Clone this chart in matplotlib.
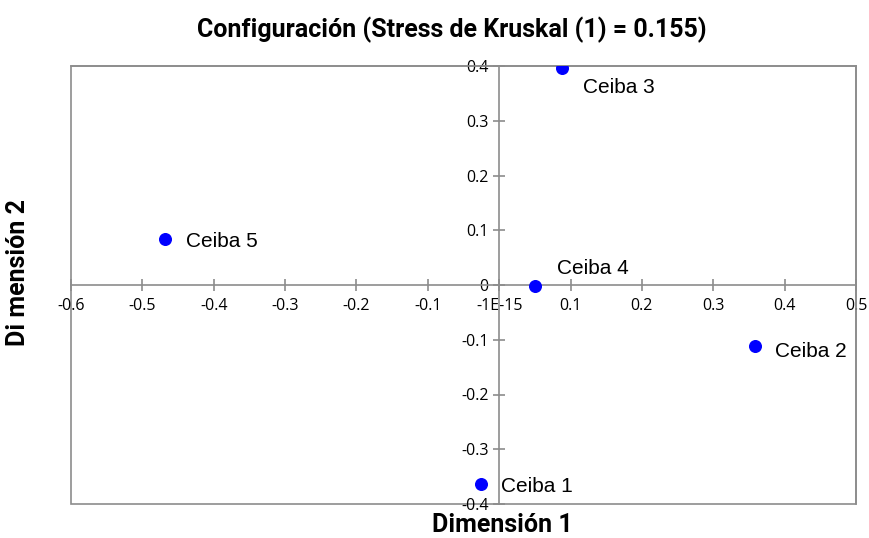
import matplotlib
matplotlib.use("Agg")
import matplotlib.pyplot as plt
from matplotlib.patches import Rectangle

names = ["Ceiba 1", "Ceiba 2", "Ceiba 3", "Ceiba 4", "Ceiba 5"]
dim1 = [-0.025, 0.359, 0.088, 0.050, -0.468]
dim2 = [-0.363, -0.111, 0.396, -0.002, 0.084]

x_ticks = [-0.6, -0.5, -0.4, -0.3, -0.2, -0.1, 0.0, 0.1, 0.2, 0.3, 0.4, 0.5]
x_labels = ["-0.6", "-0.5", "-0.4", "-0.3", "-0.2", "-0.1", "-1E-15",
            "0.1", "0.2", "0.3", "0.4", "0.5"]
y_ticks = [-0.4, -0.3, -0.2, -0.1, 0.0, 0.1, 0.2, 0.3, 0.4]
y_labels = ["-0.4", "-0.3", "-0.2", "-0.1", "0", "0.1", "0.2", "0.3", "0.4"]

# label offsets in points (dx, dy)
offsets = [(14, -2), (14, -4), (15, -14), (16, 13), (15, -2)]

gray = "#8c8c8c"
bold_font = ["Roboto", "Liberation Sans", "DejaVu Sans"]

fig = plt.figure(figsize=(8.7, 5.38), dpi=100)
ax = fig.add_axes([71 / 870, 1 - 504 / 538, 785 / 870, 438 / 538])

ax.scatter(dim1, dim2, s=70, color="#0000ff", zorder=3)
for n, x, y, off in zip(names, dim1, dim2, offsets):
    ax.annotate(n, (x, y), xytext=off, textcoords="offset points",
                fontsize=15, family="Liberation Sans", va="center", ha="left")

ax.set_xlim(-0.6, 0.5)
ax.set_ylim(-0.4, 0.4)

ax.spines["left"].set_position(("data", 0))
ax.spines["bottom"].set_position(("data", 0))
for s in ax.spines.values():
    s.set_color(gray)
    s.set_linewidth(1.2)
ax.add_patch(Rectangle((0, 0), 1, 1, transform=ax.transAxes, fill=False,
                       edgecolor=gray, linewidth=1.2, clip_on=False))

ax.set_xticks(x_ticks)
ax.set_xticklabels(x_labels)
ax.set_yticks(y_ticks)
ax.set_yticklabels(y_labels)
ax.tick_params(axis="both", direction="inout", length=9, width=1.2, color=gray,
               labelsize=11.5, pad=5)
ax.tick_params(axis="y", pad=3)
ax.tick_params(axis="both", which="both", top=False, right=False)
for lab in ax.get_xticklabels() + ax.get_yticklabels():
    lab.set_family("Open Sans")

fig.text(452 / 870, 1 - 30 / 538, "Configuración (Stress de Kruskal (1) = 0.155)",
         ha="center", va="center", fontsize=18, fontweight="bold", family=bold_font)
fig.text(502 / 870, 1 - 525 / 538, "Dimensión 1", ha="center", va="center",
         fontsize=18, fontweight="bold", family=bold_font)
fig.text(18 / 870, 1 - 272 / 538, "Di mensión 2", ha="center", va="center", rotation=90,
         fontsize=18, fontweight="bold", family=bold_font)

fig.savefig("out.png", dpi=100)
